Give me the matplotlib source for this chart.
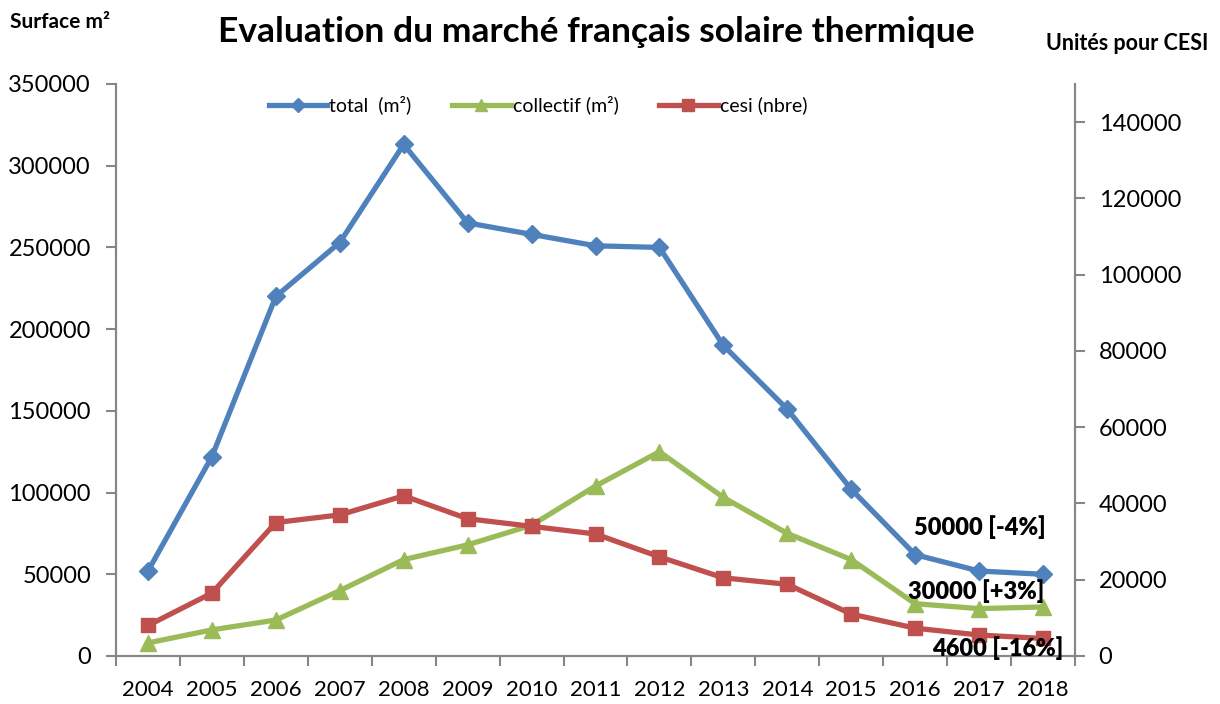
import matplotlib
matplotlib.use("Agg")
import matplotlib.pyplot as plt
from matplotlib.lines import Line2D

plt.rcParams['font.family'] = ['Lato', 'DejaVu Sans']

years = ['2004', '2005', '2006', '2007', '2008', '2009', '2010', '2011',
         '2012', '2013', '2014', '2015', '2016', '2017', '2018']
total = [52000, 122000, 220000, 253000, 313000, 265000, 258000, 251000,
         250000, 190000, 151000, 102000, 62000, 52000, 50000]
collectif = [8000, 16000, 22000, 40000, 59000, 68000, 80000, 104000,
             125000, 97000, 75000, 59000, 32000, 29000, 30000]
cesi = [8000, 16500, 35000, 37000, 42000, 36000, 34000, 32000,
        26000, 20500, 18800, 11000, 7300, 5500, 4600]
left_ticks = [0, 50000, 100000, 150000, 200000, 250000, 300000, 350000]
right_ticks = [0, 20000, 40000, 60000, 80000, 100000, 120000, 140000]
annotations = ['50000 [-4%]', '30000 [+3%]', '4600 [-16%]']

BLUE = '#4F81BD'
GREEN = '#9BBB59'
RED = '#C0504D'
GRAY = '#868686'

W, H = 1220, 704
fig = plt.figure(figsize=(12.2, 7.04), dpi=100)
ax = fig.add_axes([116/W, 1-656/H, (1075-116)/W, (656-84)/H])
ax2 = ax.twinx()

x = list(range(len(years)))
ax.plot(x, total, color=BLUE, lw=3.8, marker='D', ms=9, zorder=3, clip_on=False)
ax.plot(x, collectif, color=GREEN, lw=3.8, marker='^', ms=12, zorder=3, clip_on=False)
ax2.plot(x, cesi, color=RED, lw=3.8, marker='s', ms=10, zorder=3, clip_on=False)

ax.set_xlim(-0.5, len(years) - 0.5)
ax.set_ylim(0, 350000)
ax2.set_ylim(0, 150000)
ax.set_yticks(left_ticks)
ax2.set_yticks(right_ticks)

ax.set_xticks(x)
ax.set_xticklabels(years)
ax.set_xticks([i - 0.5 for i in range(len(years) + 1)], minor=True)
ax.tick_params(axis='x', which='major', length=0, labelsize=16, pad=17)
ax.tick_params(axis='x', which='minor', length=7, color=GRAY, width=1.5, direction='out')
ax.tick_params(axis='y', length=7, color=GRAY, width=1.5, labelsize=17, pad=11)
ax2.tick_params(axis='y', length=7, color=GRAY, width=1.5, labelsize=17, pad=10)

for a in (ax, ax2):
    a.spines['top'].set_visible(False)
    for s in ('left', 'right', 'bottom'):
        a.spines[s].set_color(GRAY)
        a.spines[s].set_linewidth(1.5)

fig.text(10/W, 1-22/H, 'Surface m²', fontsize=15, fontweight='bold', va='center', ha='left')
fig.text(1208/W, 1-43/H, 'Unités pour CESI', fontsize=15.5, fontweight='bold', va='center', ha='right')
fig.text(596/W, 1-32/H, 'Evaluation du marché français solaire thermique',
         fontsize=25.5, fontweight='bold', va='center', ha='center')

handles = [
    Line2D([], [], color=BLUE, lw=3.8, marker='D', ms=7),
    Line2D([], [], color=GREEN, lw=3.8, marker='^', ms=9),
    Line2D([], [], color=RED, lw=3.8, marker='s', ms=8),
]
labels = ['total  (m²)', 'collectif (m²)', 'cesi (nbre)']
ax.legend(handles, labels, loc='center', bbox_to_anchor=((538-116)/959, (656-105)/572),
          ncol=3, frameon=False, fontsize=14, handlelength=3.0, handletextpad=0.1,
          columnspacing=2.1)

for txt, px, py in zip(annotations, [980, 976, 998], [527, 591, 648]):
    fig.text(px/W, 1-py/H, txt, fontsize=17, fontweight='heavy', ha='center', va='center', zorder=5)

plt.savefig('out.png', dpi=100)
